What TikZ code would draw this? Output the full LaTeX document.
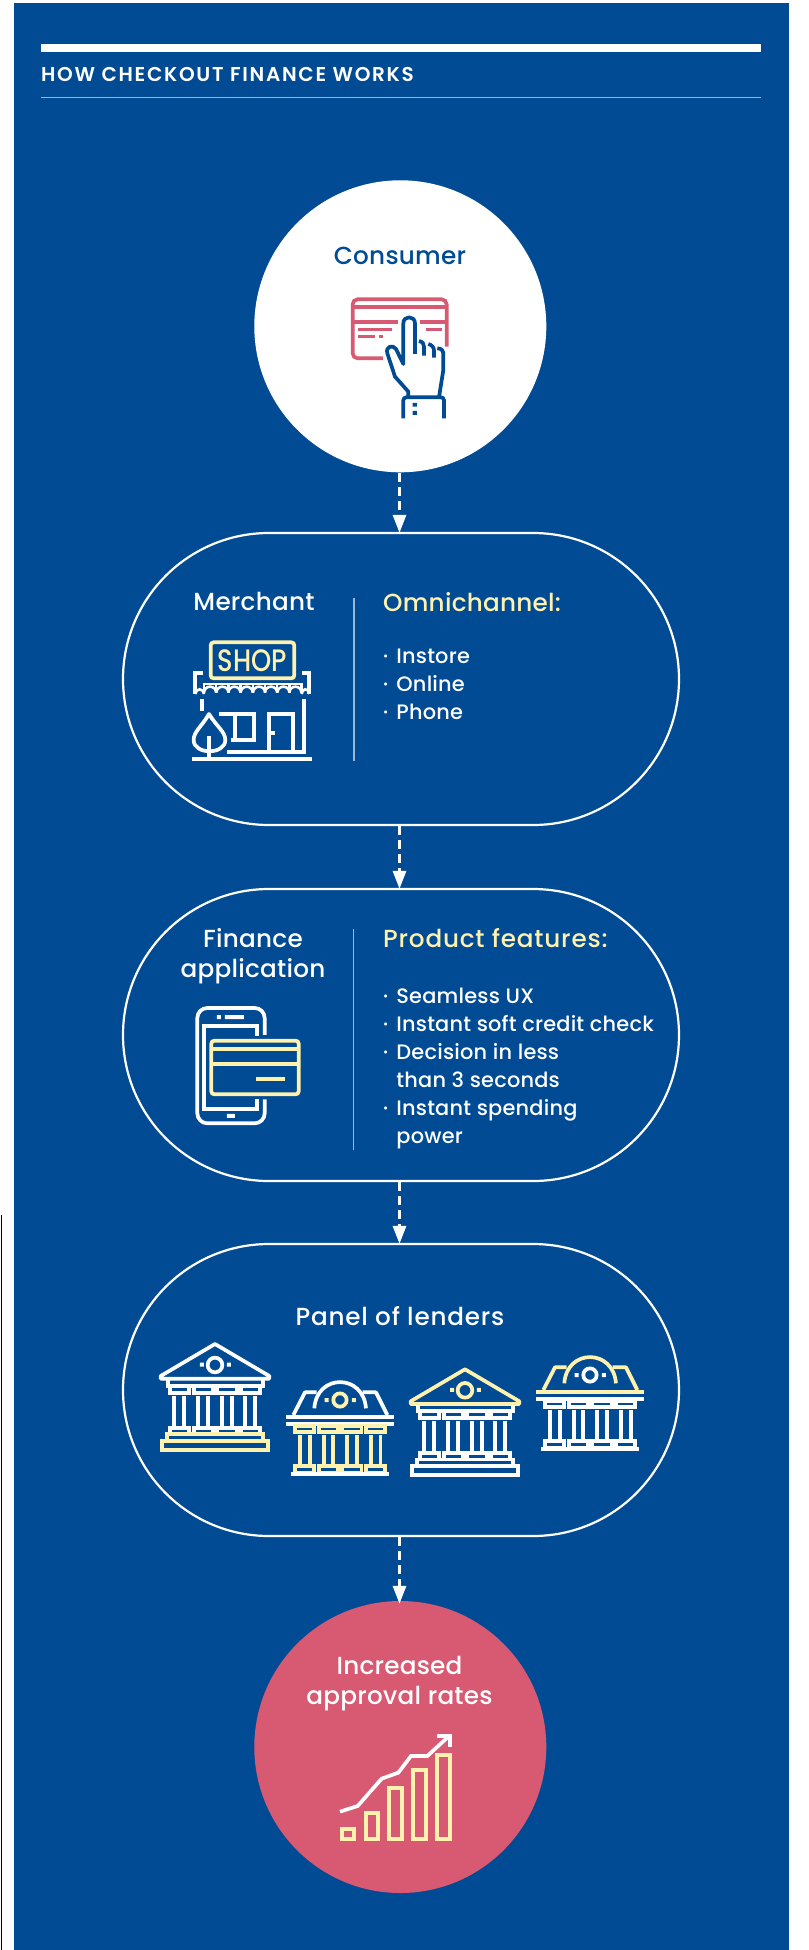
\documentclass[tikz,border=0pt]{standalone}
\usepackage{fontspec}
\setmainfont{Poppins}
\usetikzlibrary{arrows.meta}
\definecolor{navy}{HTML}{004B93}
\definecolor{cream}{HTML}{FFF1AE}
\definecolor{rosepink}{HTML}{D75A72}
\colorlet{rulelight}{white!60!navy}
\newfontfamily\lab[LetterSpace=1]{Poppins Medium}
\newfontfamily\labwide[LetterSpace=3.2]{Poppins Medium}
\newfontfamily\headfont[LetterSpace=8.5]{Poppins SemiBold}
\newcommand{\lfont}{\fontsize{24.7}{30}\selectfont\lab}
\newcommand{\lifont}{\fontsize{20.9}{28}\selectfont\lab}
\newcommand{\bul}{\makebox[13.2pt][l]{·}}
\tikzset{
  pill/.style={draw=white,line width=2.2pt,rounded corners=146pt},
  flow/.style={draw=white,line width=3pt,dash pattern=on 9pt off 5pt,-{Triangle[width=13pt,length=18pt,fill=white]}},
  ttl/.style={inner sep=0pt,text=white,font=\lfont,anchor=base,align=center},
  crm/.style={inner sep=0pt,text=cream,font=\lfont,anchor=base west},
  itm/.style={inner sep=0pt,text=white,font=\lifont,anchor=base west},
  zoomed/.style={x=0.3333pt,y=-0.3333pt,line width=3.7pt,line join=miter},
}
% temple: #1 shift, #2 roof colour, #3 body colour, #4 plinth colour
\newcommand{\temple}[4]{%
\begin{scope}[shift={#1},zoomed]
  \draw[#2,line join=round] (225,42) -- (62,138) -- (62,146) -- (388,146) -- (388,138) -- cycle;
  \draw[#2] (225,105) circle (22);
  \fill[#2] (180,98) rectangle (192,110) (261,98) rectangle (273,110);
  \draw[#3] (85,150) -- (85,168) -- (368,168) -- (368,150);
  \foreach \a in {90,161,232,303}{
    \draw[#3] (\a,168) rectangle ++(58,20);
    \draw[#3] (\a,293) rectangle ++(58,20);
    \draw[#3] (\a+13,198) -- ++(0,95) (\a+43,198) -- ++(0,95);
  }
  \draw[#4] (82,313) rectangle (368,333) (66,333) rectangle (385,360);
\end{scope}}
% domed bank: #1 shift, #2 dome colour, #3 bar 1, #4 body colour, #5 bar 2
\newcommand{\dome}[5]{%
\begin{scope}[shift={#1},zoomed]
  \draw[#2,line join=round] (460,255) -- (495,187) -- (530,187);
  \draw[#2,line join=round] (742,255) -- (708,187) -- (668,187);
  \draw[#2] (523,235) .. controls (530,130) and (670,130) .. (678,235);
  \draw[#4] (600,210) circle (20);
  \fill[#4] (554,204) rectangle (566,216) (636,204) rectangle (648,216);
  \draw[#3,line width=4pt] (438,261) -- (762,261);
  \draw[#5,line width=4pt] (438,282) -- (762,282);
  \foreach \a in {465,536,607,678}{
    \draw[#4] (\a,288) rectangle ++(58,17);
    \draw[#4] (\a,408) rectangle ++(58,20);
    \draw[#4] (\a+15,315) -- ++(0,93) (\a+44,315) -- ++(0,93);
  }
  \draw[#5,line width=4pt] (453,432) -- (747,432);
\end{scope}}
\begin{document}
\begin{tikzpicture}[x=1pt,y=-1pt]
\useasboundingbox (0,0) rectangle (808,1950);
\fill[white] (0,0) rectangle (808,1950);
\fill[navy] (14,3) rectangle (789,1950);
\draw[black,line width=1.3pt] (1.5,1215) -- (1.5,1950);
% header
\fill[white] (41,44) rectangle (761,52);
\node[inner sep=0pt,anchor=base west,text=white,font=\fontsize{20}{22}\selectfont\headfont] (title) at (41,82) {HOW CHECKOUT FINANCE WORKS};
\draw[rulelight,line width=1pt] (41,97.5) -- (761,97.5);
% shapes
\coordinate (axis) at (399.5,0);
\node[circle,fill=white,minimum size=292pt,inner sep=0pt] (consumer) at (400.3,326.3) {};
\node[pill,minimum width=556pt,minimum height=292pt,inner sep=0pt] (merchant) at (401,679) {};
\node[pill,minimum width=556pt,minimum height=292pt,inner sep=0pt] (finance) at (401,1035) {};
\node[pill,minimum width=556pt,minimum height=292pt,inner sep=0pt] (panel) at (401,1390) {};
\node[circle,fill=rosepink,minimum size=292pt,inner sep=0pt] (approval) at (400.3,1747) {};
% connectors
\draw[flow] (axis |- consumer.south) -- ([yshift=-1pt]axis |- merchant.north);
\draw[flow] (axis |- merchant.south) -- ([yshift=-1pt]axis |- finance.north);
\draw[flow] (axis |- finance.south) -- ([yshift=-1pt]axis |- panel.north);
\draw[flow] (axis |- panel.south) -- ([yshift=-3pt]axis |- approval.north);
% consumer
\node[ttl,text=navy] (tconsumer) at (400,265) {Consumer};
\begin{scope}[shift={(240,170)},zoomed]
  \draw[rosepink,rounded corners=5pt] (429,565) -- (338,565) -- (338,388) -- (620,388) -- (620,530);
  \draw[rosepink] (338,410) -- (620,410);
  \draw[rosepink] (338,455) -- (474,455) (540,455) -- (620,455);
  \draw[rosepink] (354,479) -- (456,479) (558,479) -- (606,479);
  \draw[rosepink] (354,500) -- (405,500) (417,500) -- (429,500);
  \draw[navy,line join=round] (525,552) -- (525,460) .. controls (525,436) and (490,436) .. (490,460) -- (490,582) -- (468,537) .. controls (458,522) and (436,530) .. (442,550) -- (465,620) -- (505,665) -- (505,682);
  \draw[navy] (537,513) .. controls (548,515) and (552,522) .. (552,530) -- (552,557);
  \draw[navy] (565,522) .. controls (576,525) and (582,532) .. (582,542) -- (582,563);
  \draw[navy] (592,535) .. controls (605,535) and (612,542) .. (610,560) -- (610,600) -- (597,682);
  \draw[navy,rounded corners=3pt] (490,745) -- (490,682) -- (612,682) -- (612,745);
  \fill[navy] (518,699) rectangle (531,710) (518,723) rectangle (531,735);
\end{scope}
% merchant
\node[ttl] (tmerchant) at (254,610) {Merchant};
\draw[rulelight,line width=1.2pt] (354,598) -- (354,761);
\node[crm] (omni) at (383,611) {Omnichannel:};
\node[itm] (i1) at (383,663) {\bul Instore};
\node[itm] (i2) at (383,691) {\bul Online};
\node[itm] (i3) at (383,719) {\bul Phone};
\begin{scope}[shift={(120,570)},zoomed]
  \draw[cream,rounded corners=3pt] (272,217) rectangle (523,325);
  \node[inner sep=0pt,text=cream,font=\fontsize{31}{32}\selectfont\lab,xscale=0.83] (shop) at (397,272) {SHOP};
  \draw[white] (250,308) -- (226,308) -- (226,372);
  \draw[white] (545,308) -- (568,308) -- (568,372);
  \begin{scope}[line width=2.6pt]
  \draw[white] (252,368) -- (252,342) -- (545,342) -- (545,368);
  \draw[white] (226,372) arc[start angle=180,end angle=360,x radius=13,y radius=14];
  \foreach \a in {252,289,325,362,399,435,472,508}{
    \draw[white] (\a,368) arc[start angle=180,end angle=360,x radius=18.2,y radius=18];
    \draw[white] (\a+36.6,342) -- (\a+36.6,368);
  }
  \draw[white] (545,372) arc[start angle=180,end angle=360,x radius=11.5,y radius=14];
  \end{scope}
  \draw[white] (245,388) -- (245,424);
  \draw[white] (551,388) -- (551,545) -- (320,545);
  \draw[white] (447,545) -- (447,432) -- (518,432) -- (518,545);
  \draw[white] (447,488) -- (465,488);
  \draw[white] (298,432) -- (402,432) -- (402,510) -- (332,510);
  \draw[white] (345,432) -- (345,510);
  \draw[white,line join=round] (267,432) .. controls (245,470) and (221,485) .. (221,510) .. controls (221,555) and (316,555) .. (316,510) .. controls (316,485) and (290,470) .. (267,432) -- cycle;
  \draw[white] (267,498) -- (267,566);
  \draw[white,line width=4pt] (216,566) -- (576,566);
\end{scope}
% finance
\node[ttl] (tfinance) at (253,977) {Finance\\[0pt]application};
\draw[rulelight,line width=1.2pt] (353.7,929) -- (353.7,1150);
\node[crm,font=\fontsize{24.7}{30}\selectfont\labwide] (prod) at (383,947) {Product features:};
\node[itm] (f1) at (383,1003) {\bul Seamless UX};
\node[itm] (f2) at (383,1031) {\bul Instant soft credit check};
\node[itm] (f3) at (383,1059) {\bul Decision in less};
\node[itm] (f3b) at (396.2,1087.5) {than 3 seconds};
\node[itm] (f4) at (383,1115.5) {\bul Instant spending};
\node[itm] (f4b) at (396.2,1143.5) {power};
\begin{scope}[shift={(170,920)},zoomed]
  \draw[white,rounded corners=10pt] (284,345) -- (284,264) -- (82,264) -- (82,610) -- (284,610) -- (284,538);
  \draw[white] (262,348) -- (262,318) -- (102,318) -- (102,568) -- (262,568) -- (262,538);
  \fill[white] (141,285) rectangle (153,297) (165,285) rectangle (222,297) (171,582) rectangle (195,594);
  \draw[cream,rounded corners=3pt] (124,362) rectangle (386,523);
  \draw[cream] (124,387) -- (386,387) (124,431) -- (386,431) (258,477) -- (345,477);
\end{scope}
% panel
\node[ttl,font=\fontsize{24.7}{30}\selectfont\labwide] (tpanel) at (400,1325) {Panel of lenders};
\temple{(140,1330)}{white}{white}{cream}
\dome{(140,1330)}{white}{white}{cream}{white}
\temple{(390,1355.3)}{cream}{white}{white}
\dome{(390,1305)}{cream}{cream}{white}{white}
% approval
\node[ttl] (tappr) at (399.5,1704) {Increased\\[0pt]approval rates};
\begin{scope}[shift={(320,1700)},zoomed]
  \foreach \a/\b/\t in {65/103/388,137/175/340,208/246/264,279/318/211,351/389/166}{
    \draw[cream] (\a,\t) rectangle (\b,418);
  }
  \draw[white] (60,335) -- (113,318) -- (185,236) -- (235,218) -- (273,168) -- (322,168) -- (385,110);
  \draw[white] (350,107) -- (390,107) -- (390,142);
\end{scope}
\end{tikzpicture}
\end{document}
